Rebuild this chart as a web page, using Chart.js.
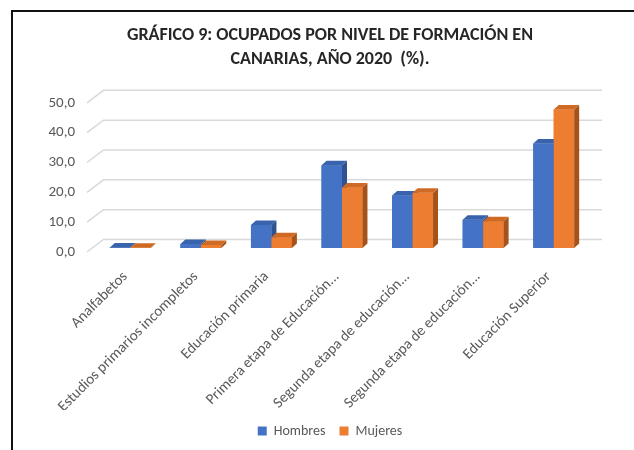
<!DOCTYPE html>
<html lang="es">
<head>
<meta charset="utf-8">
<title>Gráfico 9</title>
<script src="https://cdn.jsdelivr.net/npm/chart.js@4.4.1/dist/chart.umd.min.js"></script>
<style>
  html, body { margin: 0; padding: 0; background: #fff; }
  canvas { display: block; }
</style>
</head>
<body>
<canvas id="grafico" width="634" height="450"></canvas>
<script>
const categorias = [
  'Analfabetos',
  'Estudios primarios incompletos',
  'Educación primaria',
  'Primera etapa de Educación...',
  'Segunda etapa de educación...',
  'Segunda etapa de educación...',
  'Educación Superior'
];
const hombres = [0.2, 1.3, 7.7, 27.7, 17.6, 9.5, 35.0];
const mujeres = [0.1, 1.0, 3.6, 20.3, 18.5, 9.0, 46.4];
const ticksY = [0, 10, 20, 30, 40, 50];

// tonos de cada serie: frente, lado y tapa
const caras = [
  { frente: '#4472c4', lado: '#2f5290', tapa: '#3a63ad' },
  { frente: '#ed7d31', lado: '#a5531b', tapa: '#cf6a24' }
];
const PROF = { dx: 5, dy: 4.5 };   // fondo de cada barra
const GRIS = '#595959';

Chart.defaults.font.family = 'Carlito, Calibri, Lato, sans-serif';
Chart.defaults.color = GRIS;

const efecto3d = {
  id: 'efecto3d',
  beforeDraw(chart) {
    const { ctx, width, height } = chart;
    ctx.save();
    ctx.fillStyle = '#fff';
    ctx.fillRect(0, 0, width, height);
    // marco recortado: solo arriba e izquierda
    ctx.strokeStyle = '#111';
    ctx.lineWidth = 2;
    ctx.beginPath();
    ctx.moveTo(12, height);
    ctx.lineTo(12, 11);
    ctx.lineTo(width, 11);
    ctx.stroke();
    ctx.restore();
  },
  beforeDatasetsDraw(chart) {
    const { ctx, chartArea: a, scales: { y } } = chart;
    ctx.save();
    ctx.strokeStyle = '#d9d9d9';
    ctx.lineWidth = 1.5;
    ticksY.forEach(v => {
      const py = y.getPixelForValue(v);
      ctx.beginPath();
      ctx.moveTo(a.left - 8, py + 4);
      ctx.lineTo(a.left + 8.5, py - 8.5);
      ctx.lineTo(a.right + 13, py - 8.5);
      ctx.stroke();
    });
    ctx.restore();
  },
  afterDatasetsDraw(chart) {
    const { ctx } = chart;
    ctx.save();
    chart.data.datasets.forEach((ds, i) => {
      const tonos = caras[i];
      chart.getDatasetMeta(i).data.forEach(bar => {
        const { x, y, base, width } = bar.getProps(['x', 'y', 'base', 'width']);
        const l = x - width / 2, r = x + width / 2;
        ctx.fillStyle = tonos.frente;
        ctx.fillRect(l, y, width, base - y);
        ctx.fillStyle = tonos.lado;
        ctx.beginPath();
        ctx.moveTo(r, base);
        ctx.lineTo(r + PROF.dx, base - PROF.dy);
        ctx.lineTo(r + PROF.dx, y - PROF.dy);
        ctx.lineTo(r, y);
        ctx.closePath();
        ctx.fill();
        ctx.fillStyle = tonos.tapa;
        ctx.beginPath();
        ctx.moveTo(l, y);
        ctx.lineTo(l + PROF.dx, y - PROF.dy);
        ctx.lineTo(r + PROF.dx, y - PROF.dy);
        ctx.lineTo(r, y);
        ctx.closePath();
        ctx.fill();
      });
    });
    ctx.restore();
  }
};

new Chart(document.getElementById('grafico'), {
  type: 'bar',
  data: {
    labels: categorias,
    datasets: [
      { label: 'Hombres', data: hombres, backgroundColor: caras[0].frente },
      { label: 'Mujeres', data: mujeres, backgroundColor: caras[1].frente }
    ]
  },
  options: {
    responsive: false,
    animation: false,
    events: [],
    layout: { padding: { left: 26, right: 0, top: 0, bottom: 2 } },
    datasets: { bar: { categoryPercentage: 0.58, barPercentage: 1 } },
    scales: {
      x: {
        grid: { display: false, drawTicks: false },
        border: { display: false },
        ticks: {
          autoSkip: false, minRotation: 45, maxRotation: 45,
          padding: 20, labelOffset: -5, font: { size: 15 }
        },
        afterFit: s => { s.height = 162; }
      },
      y: {
        min: 0,
        max: 50,
        grid: { display: false, drawTicks: false },
        border: { display: false },
        afterBuildTicks: s => { s.ticks = ticksY.map(v => ({ value: v })); },
        afterFit: s => { s.width = 69; },
        ticks: {
          padding: 20,
          labelOffset: 4,
          font: { size: 15 },
          callback: v => v.toFixed(1).replace('.', ',')
        }
      },
      // eje derecho vacío: solo reserva el margen derecho
      y2: {
        type: 'linear',
        position: 'right',
        grid: { display: false, drawTicks: false },
        border: { display: false },
        ticks: { display: false },
        afterFit: s => { s.width = 45; }
      }
    },
    plugins: {
      title: {
        display: true,
        text: ['GRÁFICO 9: OCUPADOS POR NIVEL DE FORMACIÓN EN', 'CANARIAS, AÑO 2020  (%).'],
        color: '#262626',
        font: { size: 18, weight: 'bold', lineHeight: 1.3 },
        padding: { top: 24, bottom: 28 }
      },
      legend: {
        position: 'bottom',
        labels: {
          boxWidth: 9,
          boxHeight: 9,
          padding: 14,
          font: { size: 14 }
        }
      },
      tooltip: { enabled: false }
    }
  },
  plugins: [efecto3d]
});
</script>
</body>
</html>
